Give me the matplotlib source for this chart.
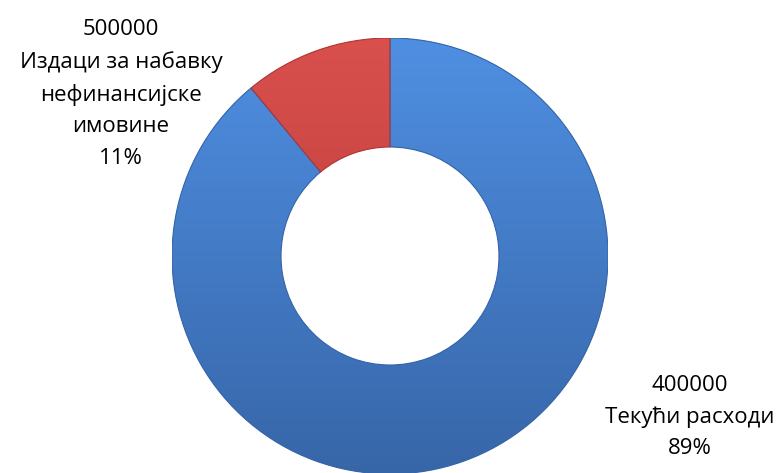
import numpy as np
from matplotlib import pyplot as plt
from matplotlib.patches import Wedge
from matplotlib.colors import LinearSegmentedColormap

# data
names = ['Текући расходи', 'Издаци за набавку\nнефинансијске\nимовине']
amounts = ['400000', '500000']
shares = [89, 11]

colors_top = ['#4f8fe2', '#d9504d']
colors_bottom = ['#3766a8', '#b13634']

plt.rcParams['font.family'] = ['Open Sans', 'DejaVu Sans']

fig = plt.figure(figsize=(7.8, 4.73), dpi=100)
W, H = 780, 473
cx, cy, r = 390, 256, 218
ax = fig.add_axes([(cx - r) / W, (H - cy - r) / H, 2 * r / W, 2 * r / H])

wedges, _ = ax.pie(shares, startangle=90, counterclock=False, radius=1,
                   colors=colors_top,
                   wedgeprops=dict(width=0.5, edgecolor='none'))

# soft vertical shading inside each slice
grad = np.linspace(0, 1, 256).reshape(-1, 1)
for w, c0, c1 in zip(wedges, colors_top, colors_bottom):
    cmap = LinearSegmentedColormap.from_list('g', [c1, c0])
    im = ax.imshow(grad, extent=(-1, 1, -1, 1), origin='lower', cmap=cmap,
                   aspect='auto', zorder=2)
    im.set_clip_path(w)
    ax.add_patch(Wedge(w.center, w.r, w.theta1, w.theta2, width=w.width,
                       fill=False, edgecolor=c1, linewidth=0.8, zorder=3))

ax.set_xlim(-1, 1)
ax.set_ylim(-1, 1)
ax.set_aspect('equal')
ax.axis('off')

fs = 16
fig.text(690 / W, 1 - 417 / H, f'{amounts[0]}\n{names[0]}\n{shares[0]}%',
         ha='center', va='center', fontsize=fs, linespacing=1.64, color='#000000')
fig.text(121 / W, 1 - 94 / H, f'{amounts[1]}\n{names[1]}\n{shares[1]}%',
         ha='center', va='center', fontsize=fs, linespacing=1.64, color='#000000')

fig.savefig('out.png', dpi=100)
